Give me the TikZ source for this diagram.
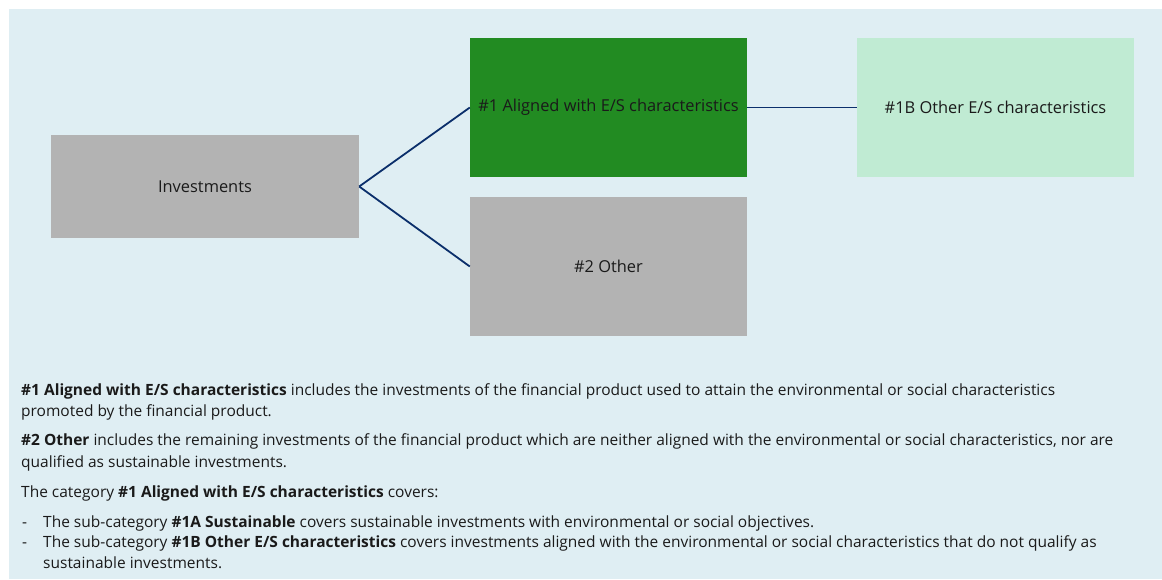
\documentclass[tikz,border=0pt]{standalone}
\usepackage{fontspec}
\setmainfont{Open Sans}
\definecolor{bgblue}{HTML}{DFEEF3}
\definecolor{boxgrey}{HTML}{B3B3B3}
\definecolor{boxgreen}{HTML}{228B22}
\definecolor{lightgreen}{HTML}{C0EBD3}
\definecolor{linkblue}{HTML}{0B2F6B}
\definecolor{txt}{HTML}{1A1A1A}
\begin{document}
\begin{tikzpicture}[x=1pt,y=-1pt,
  box/.style={rectangle,inner sep=0pt,minimum width=277pt,minimum height=139pt,font=\fontsize{16.4}{19}\selectfont,text=txt},
  link/.style={draw=linkblue,line width=1.8pt},
  line/.style={anchor=base west,inner sep=0pt,font=\fontsize{15.5}{18}\selectfont,text=txt}]
\useasboundingbox (0,0) rectangle (1162,579);
\fill[bgblue] (9,9) rectangle (1162,579);
\node[box,fill=boxgrey,minimum width=308pt,minimum height=103pt] (inv) at (205,186.5) {Investments};
\node[box,fill=boxgreen] (al) at (608.5,107.5) {\#1 Aligned with E/S characteristics};
\node[box,fill=boxgrey] (ot) at (608.5,266.5) {\#2 Other};
\node[box,fill=lightgreen] (ob) at (995.5,107.5) {\#1B Other E/S characteristics};
\draw[link] (inv.east) -- (al.west);
\draw[link] (inv.east) -- (ot.west);
\draw[link] (al.east) -- (ob.west);
\node[line] (t1) at (21,395) {\textbf{\#1 Aligned with E/S characteristics} includes the investments of the financial product used to attain the environmental or social characteristics};
\node[line] (t2) at (21,416.5) {promoted by the financial product.};
\node[line] (t3) at (21,445) {\textbf{\#2 Other} includes the remaining investments of the financial product which are neither aligned with the environmental or social characteristics, nor are};
\node[line] (t4) at (21,467.5) {qualified as sustainable investments.};
\node[line] (t5) at (21,497) {The category \textbf{\#1 Aligned with E/S characteristics} covers:};
\node[line] (d1) at (22,527) {-};
\node[line] (t6) at (43,527) {The sub-category \textbf{\#1A Sustainable} covers sustainable investments with environmental or social objectives.};
\node[line] (d2) at (22,547.5) {-};
\node[line] (t7) at (43,547.5) {The sub-category \textbf{\#1B Other E/S characteristics} covers investments aligned with the environmental or social characteristics that do not qualify as};
\node[line] (t8) at (43,568.5) {sustainable investments.};
\end{tikzpicture}
\end{document}
